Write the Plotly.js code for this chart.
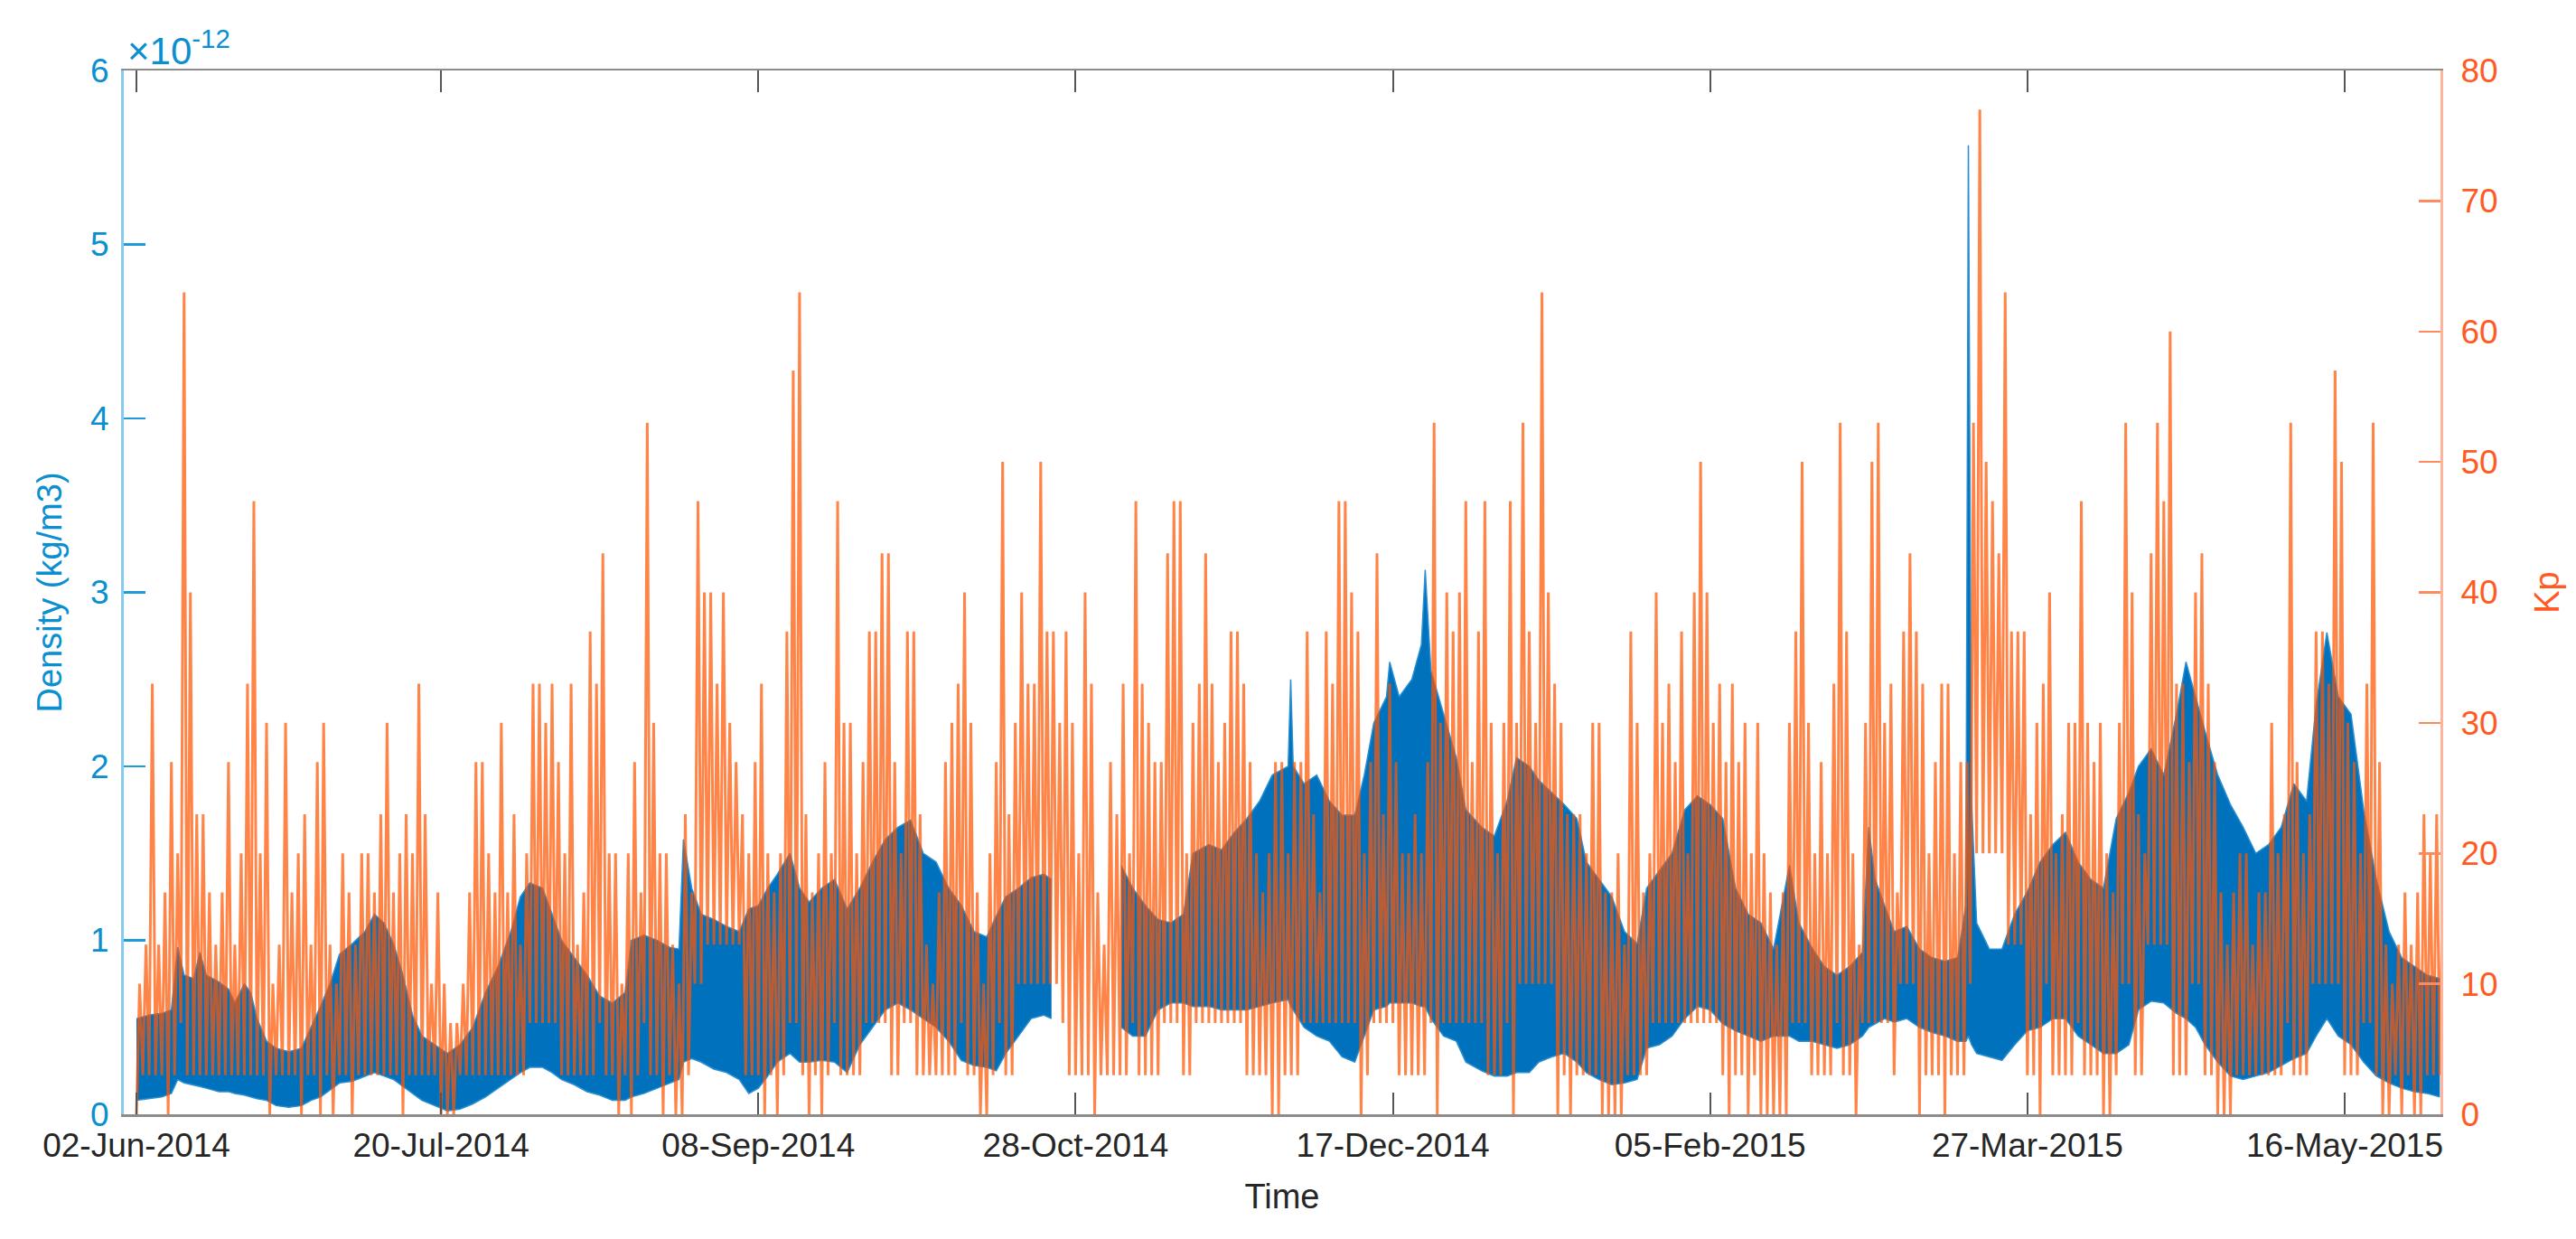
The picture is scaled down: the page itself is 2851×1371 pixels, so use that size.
<!DOCTYPE html>
<html><head><meta charset="utf-8">
<script src="https://cdn.plot.ly/plotly-3.0.1.min.js"></script>
<style>html,body{margin:0;padding:0;background:#fff;}#chart{width:2851px;height:1371px;}</style>
</head><body><div id="chart"></div>
<script>
// ---- data ----
// day index = days after 2014-06-01 (day 1 = 02-Jun-2014)
const kpMax = [
10,13,33,13,17,27,20,63,40,23,
23,17,13,17,27,13,20,33,47,20,
30,10,13,30,17,20,23,13,27,30,
13,10,20,17,13,20,20,17,23,30,
17,20,23,20,33,23,10,17,10,7,
7,10,17,27,27,20,17,30,17,23,
13,20,33,33,30,33,27,20,33,13,
17,37,33,43,20,20,10,20,27,17,
53,30,20,20,13,10,23,17,47,40,
40,33,40,30,27,23,20,27,33,20,
17,20,37,57,63,23,17,20,27,20,
47,30,30,20,27,37,37,43,43,27,
20,37,37,23,13,10,17,27,30,33,
40,30,17,10,20,27,50,23,30,40,
33,33,50,37,37,30,37,30,20,40,
33,17,13,27,23,33,20,47,33,30,
27,27,43,47,47,20,30,33,43,33,
27,30,37,37,33,27,20,17,20,27,
27,20,27,27,37,23,17,37,33,47,
47,40,37,20,27,43,23,33,27,20,
20,23,20,27,53,30,40,37,40,47,
27,37,47,30,20,30,47,30,53,37,
30,63,40,33,30,23,23,23,20,30,
30,17,17,20,13,37,30,17,20,40,
30,33,27,37,20,40,50,40,30,33,
27,33,27,30,20,30,20,17,13,17,
30,37,50,30,20,27,20,33,53,37,
20,13,30,50,53,30,33,17,37,43,
37,33,20,27,33,33,20,27,27,53,
77,50,47,43,63,37,37,37,23,30,
33,40,20,23,30,30,47,30,27,30,
20,17,30,53,40,23,20,43,53,47,
60,33,33,27,40,43,33,27,17,13,
17,20,20,13,17,17,30,20,23,53,
27,20,23,37,37,33,57,50,30,27,
20,33,53,27,13,10,13,17,13,17,
23,20,23,20
];
const kpMin = [
0,3,3,3,3,0,3,7,3,3,
3,3,3,3,3,3,3,3,3,3,
3,0,3,3,3,3,0,3,3,0,
3,0,3,3,0,3,3,3,3,3,
3,3,0,3,3,3,3,3,0,0,
0,3,3,3,3,3,3,3,3,3,
3,3,7,7,7,7,7,3,3,3,
3,3,3,7,3,3,0,3,0,3,
7,3,3,0,3,0,0,3,10,10,
13,13,13,13,13,13,3,3,3,0,
3,0,3,7,7,3,0,3,0,3,
7,3,3,3,3,7,7,7,7,3,
3,7,7,3,3,3,3,3,3,3,
7,3,3,0,0,3,7,3,3,10,
10,10,10,10,10,10,7,3,3,3,
3,0,3,3,3,3,3,7,3,3,
3,3,7,7,7,3,3,7,7,7,
7,7,7,7,7,3,3,3,3,0,
0,3,3,3,7,7,7,7,7,7,
7,7,7,0,3,7,7,7,7,3,
3,3,3,3,7,0,7,7,7,7,
7,7,7,3,3,3,7,0,10,10,
10,10,10,10,0,3,0,3,3,3,
3,0,0,0,0,3,3,3,3,7,
7,7,7,7,7,7,7,7,7,7,
3,0,3,3,0,3,0,0,0,0,
0,7,7,7,3,3,3,3,7,3,
3,0,7,7,7,7,7,3,10,10,
10,0,3,3,3,0,3,3,3,10,
20,20,20,20,20,13,13,13,3,3,
0,10,3,3,3,3,7,3,3,3,
0,0,3,10,10,3,3,13,13,13,
13,3,3,3,10,10,3,3,0,0,
0,3,3,3,3,3,3,3,3,7,
3,3,3,10,10,10,10,10,3,3,
3,7,7,3,0,0,3,0,3,0,
0,3,3,3
];
// density envelope (units of 1e-12 kg/m3); null marks the data gap
const densDay = [1,3,5,6.5,7.5,8.5,10,11,12,14,15.5,16.5,18,19,20,21.5,23,25,27,28.5,
30,31.5,33,35,37,38.5,40,41.5,43,44.5,46,48,50,52,54,56,58,60,61.5,63,
65,66.5,68,70,72,74,76,78,79,81,83,85,86.5,87.2,88.5,90,92,94,96,97.5,
99,100.5,102,104,105.5,107,109,111,113,115,117,119,121,123,125,127,129,131,133,135,
136.5,138,140,142,144,145.2,150,156.2,158,160,162,164,166,167.5,170,172,174,176,178,180,
182.5,182.9,183.3,185,187,189,191,193,194.5,196,198,198.5,200,202,203.5,204.1,205,207,209,210.5,
213,215,217,218.5,220.5,222,224,226,228,229.5,231.5,233.5,235.5,237.5,239,241,243,245,247,249,
251,253,255,257,259,261.5,263,265,267,269,271,273,274,275,276.5,278,280,282,284,286,
288,289.3,289.7,290.2,291,293,295,297,299,301,303,305,307,309,311,313,315,316.5,318.5,320.5,
322.5,324,325.5,327,329,331,333,335,337,339,341,343,344.5,346.2,348,350,352,354,356,358,
360,362,364];
const densUpper = [.55,.57,.58,.60,.96,.80,.78,.93,.80,.76,.72,.64,.75,.70,.55,.42,.38,.36,.38,.50,
.62,.75,.92,.98,1.05,1.15,1.10,.98,.80,.57,.45,.40,.35,.40,.50,.70,.85,1.05,1.25,1.33,
1.30,1.15,1.00,.90,.80,.68,.64,.70,1.00,1.03,1.00,.96,.95,1.58,1.30,1.15,1.12,1.08,1.05,1.18,
1.20,1.30,1.38,1.50,1.30,1.22,1.30,1.35,1.18,1.30,1.45,1.58,1.65,1.69,1.50,1.45,1.30,1.20,1.05,1.02,
1.14,1.25,1.30,1.36,1.38,1.35,null,1.43,1.30,1.20,1.12,1.10,1.15,1.50,1.55,1.52,1.62,1.70,1.80,1.95,
2.00,2.50,2.00,1.90,1.95,1.80,1.72,1.72,1.95,2.25,2.40,2.60,2.40,2.50,2.70,3.13,2.55,2.30,2.05,1.75,
1.65,1.60,1.80,2.05,2.00,1.92,1.85,1.78,1.70,1.45,1.35,1.25,1.05,.98,1.30,1.40,1.50,1.75,1.83,1.78,
1.70,1.30,1.15,1.10,.95,1.43,1.10,.96,.85,.80,.85,.93,1.65,1.35,1.20,1.05,1.08,.95,.90,.88,
.90,1.20,5.57,1.80,1.10,.95,.95,1.15,1.28,1.45,1.55,1.62,1.45,1.35,1.30,1.70,1.85,2.00,2.10,1.95,
2.30,2.60,2.40,2.20,1.95,1.78,1.65,1.50,1.55,1.65,1.90,1.80,2.35,2.77,2.40,2.30,1.75,1.35,1.05,.90,
.85,.80,.78];
const densLower = [.08,.09,.10,.12,.20,.18,.17,.16,.15,.13,.13,.12,.11,.10,.09,.08,.05,.04,.05,.08,
.10,.14,.18,.19,.22,.24,.22,.20,.16,.12,.08,.05,.02,.03,.06,.10,.15,.20,.24,.27,
.27,.24,.20,.17,.13,.11,.08,.08,.10,.12,.15,.18,.20,.30,.32,.30,.26,.24,.20,.12,
.15,.22,.30,.35,.30,.30,.31,.30,.24,.40,.50,.60,.64,.60,.55,.50,.42,.31,.28,.27,
.25,.35,.45,.55,.57,.55,null,.50,.45,.45,.60,.64,.64,.62,.62,.60,.60,.60,.62,.64,
.66,.62,.60,.50,.45,.42,.33,.30,.45,.60,.62,.64,.64,.64,.62,.62,.55,.45,.42,.30,
.25,.22,.22,.24,.24,.30,.33,.35,.30,.24,.20,.17,.18,.20,.38,.40,.45,.55,.62,.60,
.52,.48,.45,.42,.45,.45,.42,.42,.40,.38,.40,.45,.50,.52,.55,.53,.55,.50,.47,.45,
.42,.42,.45,.40,.35,.33,.31,.40,.48,.50,.55,.55,.45,.40,.35,.35,.40,.60,.65,.64,
.58,.55,.50,.40,.30,.22,.20,.22,.24,.28,.32,.35,.45,.55,.45,.40,.30,.22,.18,.15,
.13,.12,.10];
const tickDates = ['2014-06-02','2014-07-20','2014-09-08','2014-10-28','2014-12-17','2015-02-05','2015-03-27','2015-05-16'];
const tickLabels = ['02-Jun-2014','20-Jul-2014','08-Sep-2014','28-Oct-2014','17-Dec-2014','05-Feb-2015','27-Mar-2015','16-May-2015'];
const densTicks = [0,1,2,3,4,5,6];
const kpTicks = [0,10,20,30,40,50,60,70,80];

// ---- build traces ----
const DAY = 86400000;
const T0 = Date.UTC(2014,5,1);
function dayToDate(d){ return new Date(T0 + d*DAY).toISOString().replace('T',' ').replace('Z',''); }

const blue = '#0072BD';
const traces = [];
let seg = {x:[], lo:[], up:[]};
function flush(){
  if(seg.x.length){
    traces.push({x:seg.x, y:seg.lo.map(v=>v*1e-12), mode:'lines', line:{color:'#2a8fd0',width:1.5}, yaxis:'y', hoverinfo:'skip'});
    traces.push({x:seg.x, y:seg.up.map(v=>v*1e-12), mode:'lines', line:{color:'#2a8fd0',width:1.5}, fill:'tonexty', fillcolor:blue, yaxis:'y', hoverinfo:'skip'});
  }
  seg = {x:[], lo:[], up:[]};
}
for(let i=0;i<densDay.length;i++){
  if(densUpper[i]===null){ flush(); continue; }
  seg.x.push(dayToDate(densDay[i])); seg.lo.push(densLower[i]); seg.up.push(densUpper[i]);
}
flush();

const kx = [], ky = [];
for(let i=0;i<kpMax.length;i++){
  const d = i+1;
  kx.push(dayToDate(d)); ky.push(kpMin[i]);
  kx.push(dayToDate(d+0.5)); ky.push(kpMax[i]);
}
traces.push({x:kx, y:ky, mode:'lines', line:{color:'rgba(255,84,0,0.72)', width:3}, yaxis:'y2', hoverinfo:'skip'});

const F = 'Liberation Sans, Arial, Helvetica, sans-serif';
const layout = {
  width:2851, height:1371,
  margin:{l:137, r:150, t:78, b:138},
  paper_bgcolor:'#fff', plot_bgcolor:'#fff',
  showlegend:false,
  font:{family:F, size:37, color:'#262626'},
  xaxis:{type:'date', range:[dayToDate(-1), dayToDate(364.1)],
    tickmode:'array', tickvals:tickDates, ticktext:tickLabels,
    ticks:'inside', ticklen:24, tickwidth:2, tickcolor:'#555',
    showline:true, linecolor:'#8c8c8c', linewidth:2.5, mirror:'ticks',
    showgrid:false, zeroline:false,
    tickfont:{family:F, size:37, color:'#262626'},
    title:{text:'Time', font:{family:F, size:38, color:'#262626'}, standoff:24}},
  yaxis:{range:[0,6e-12], tickmode:'array', tickvals:densTicks.map(v=>v*1e-12), ticktext:densTicks.map(String),
    ticks:'inside', ticklen:24, tickwidth:2.5, tickcolor:'#1E9BD8',
    showline:true, linecolor:'#86CBEF', linewidth:3,
    showgrid:false, zeroline:false, ticklabelstandoff:6,
    tickfont:{family:F, size:37, color:'#0A8FD0'},
    title:{text:'Density (kg/m3)', font:{family:F, size:38, color:'#0A8FD0'}, standoff:20}},
  yaxis2:{overlaying:'y', side:'right', range:[0,80], tickmode:'array', tickvals:kpTicks,
    ticks:'inside', ticklen:24, tickwidth:2.5, tickcolor:'#FF8A60',
    showline:true, linecolor:'#FFB59C', linewidth:3,
    showgrid:false, zeroline:false, ticklabelstandoff:12,
    tickfont:{family:F, size:37, color:'#FF5A1F'},
    title:{text:'Kp', font:{family:F, size:38, color:'#FF5A1F'}, standoff:42}},
  annotations:[{xref:'paper', yref:'paper', x:0, y:1, xanchor:'left', yanchor:'bottom', xshift:2, yshift:-4,
    text:'×10<sup>-12</sup>', showarrow:false, font:{family:F, size:42, color:'#0A8FD0'}}]
};
Plotly.newPlot('chart', traces, layout, {staticPlot:true, displayModeBar:false});
</script>
</body></html>
